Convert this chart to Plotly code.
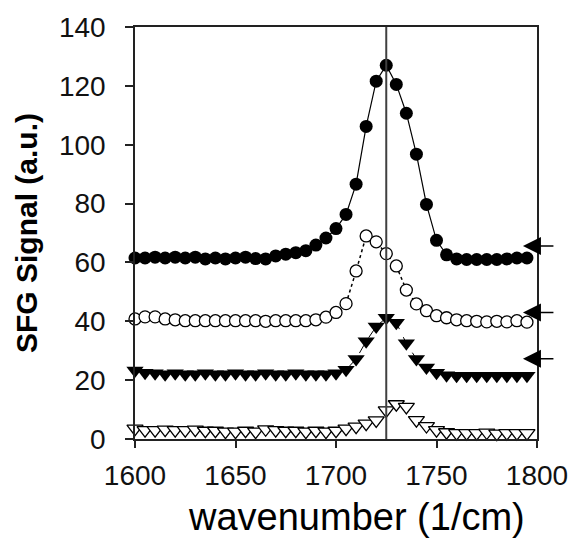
import plotly.graph_objects as go

wavenumber = [1600 + 5 * i for i in range(40)]

series_a = [61.5, 61.5, 61.8, 61.5, 61.8, 61.5, 61.8, 61.2, 61.5, 61.2,
            61.5, 61.8, 61.3, 61.2, 62.2, 62.8, 63.3, 64.0, 65.9, 68.3,
            71.5, 76.3, 86.6, 106.2, 121.6, 127.0, 120.5, 110.7, 96.8, 79.7,
            67.5, 62.6, 61.2, 61.0, 61.0, 61.0, 61.0, 61.2, 61.5, 61.5]

series_b = [40.8, 41.5, 41.5, 40.8, 40.5, 40.2, 40.2, 40.2, 40.2, 40.2,
            40.2, 40.2, 40.2, 40.0, 40.2, 40.2, 40.2, 40.2, 40.5, 41.4,
            43.0, 46.0, 57.1, 69.0, 67.0, 63.0, 58.8, 50.6, 45.9, 43.6,
            41.9, 41.2, 40.5, 40.2, 40.0, 39.8, 40.0, 39.8, 40.2, 39.7]

series_c = [23.3, 22.5, 22.3, 22.0, 22.3, 22.0, 22.0, 22.3, 22.0, 22.0,
            22.3, 22.0, 22.0, 22.3, 22.0, 22.0, 22.3, 22.0, 22.0, 22.0,
            22.3, 23.5, 27.2, 33.2, 38.2, 41.2, 39.5, 32.5, 27.2, 24.3,
            22.5, 21.7, 21.5, 21.5, 21.5, 21.5, 21.5, 21.5, 21.5, 21.5]

series_d = [3.5, 3.0, 3.0, 3.2, 3.0, 3.0, 3.2, 2.8, 2.8, 2.5,
            2.5, 2.8, 2.5, 3.3, 3.0, 2.8, 2.8, 2.5, 2.8, 2.5,
            2.8, 3.5, 4.2, 5.2, 6.3, 9.7, 11.8, 10.9, 6.4, 4.4,
            3.0, 2.3, 2.0, 2.0, 2.0, 2.2, 1.8, 2.0, 2.0, 2.0]

peak_position = 1725
arrow_levels = [65.6, 43.0, 27.3]
x_ticks = [1600, 1650, 1700, 1750, 1800]
y_ticks = [0, 20, 40, 60, 80, 100, 120, 140]

FONT = "Liberation Sans, Arial, sans-serif"

fig = go.Figure()

fig.add_trace(go.Scatter(
    x=wavenumber, y=series_d, mode="markers", cliponaxis=False,
    marker=dict(symbol="triangle-down", size=14, color="white",
                line=dict(width=1.3, color="black")),
    showlegend=False))

fig.add_trace(go.Scatter(
    x=wavenumber, y=series_c, mode="lines+markers", cliponaxis=False,
    line=dict(color="black", width=1, dash="dash"),
    marker=dict(symbol="triangle-down", size=15, color="black"),
    showlegend=False))

fig.add_trace(go.Scatter(
    x=wavenumber, y=series_b, mode="lines+markers", cliponaxis=False,
    line=dict(color="black", width=1.5, dash="dot"),
    marker=dict(symbol="circle", size=12, color="white",
                line=dict(width=1.3, color="black")),
    showlegend=False))

fig.add_trace(go.Scatter(
    x=wavenumber, y=series_a, mode="lines+markers", cliponaxis=False,
    line=dict(color="black", width=1.2),
    marker=dict(symbol="circle", size=13, color="black"),
    showlegend=False))

fig.add_shape(type="line", xref="x", yref="y",
              x0=peak_position, x1=peak_position, y0=0, y1=140,
              line=dict(color="#404040", width=2), layer="above")

for lvl in arrow_levels:
    fig.add_annotation(x=1793, y=lvl, ax=32, ay=0,
                       xref="x", yref="y", text="", showarrow=True,
                       arrowhead=2, arrowsize=2.4, arrowwidth=1.5,
                       arrowcolor="black")

fig.add_annotation(text="wavenumber (1/cm)", xref="paper", yref="paper",
                   x=0.55, y=-0.19, xanchor="center", yanchor="middle",
                   showarrow=False, font=dict(family=FONT, size=38, color="black"))

fig.update_xaxes(range=[1600, 1800], tickvals=x_ticks,
                 showgrid=False, zeroline=False,
                 showline=True, linecolor="#222", linewidth=1.5, mirror=True,
                 ticks="outside", ticklen=7, tickwidth=1.5, tickcolor="#222",
                 tickfont=dict(family=FONT, size=28, color="#111"),
                 ticklabelstandoff=4)

fig.update_yaxes(range=[0, 140], tickvals=y_ticks,
                 showgrid=False, zeroline=False,
                 showline=True, linecolor="#222", linewidth=1.5, mirror=True,
                 ticks="outside", ticklen=8, tickwidth=1.5, tickcolor="#222",
                 tickfont=dict(family=FONT, size=28, color="#111"),
                 ticklabelstandoff=14,
                 title=dict(text="<b>SFG Signal (a.u.)</b>",
                            font=dict(family=FONT, size=30, color="black"),
                            standoff=12))

fig.update_layout(width=580, height=544,
                  margin=dict(l=135, r=32, t=25, b=105),
                  paper_bgcolor="white", plot_bgcolor="white")

fig.write_html("out.html")
